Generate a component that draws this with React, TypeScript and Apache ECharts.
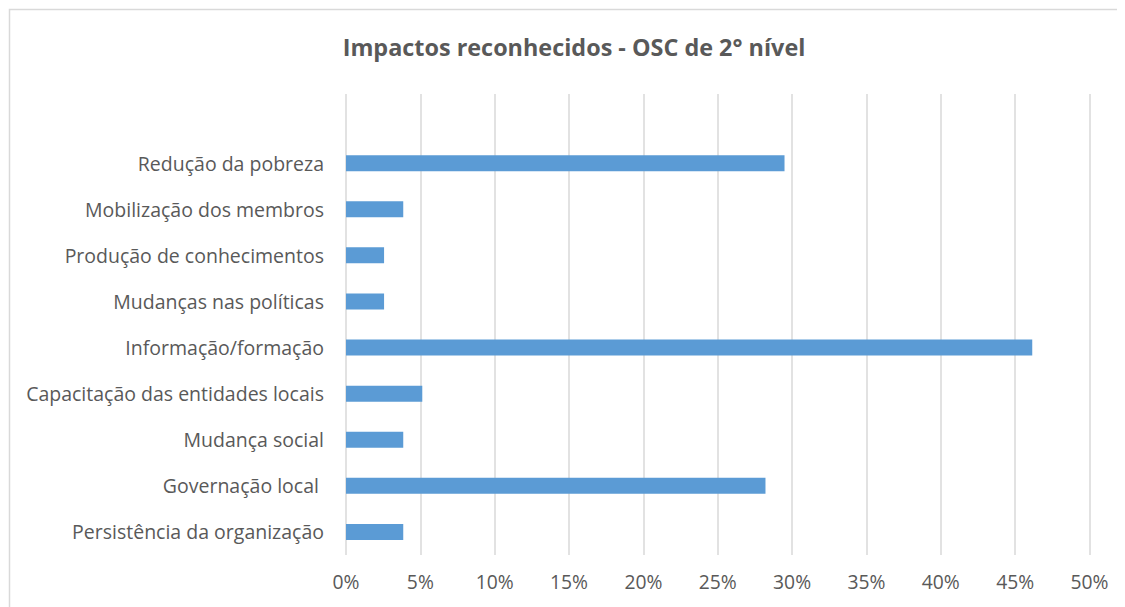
import React, { useEffect, useRef } from "react";
import * as echarts from "echarts";

const categories = [
  "",
  "Redução da pobreza",
  "Mobilização dos membros",
  "Produção de conhecimentos",
  "Mudanças nas políticas",
  "Informação/formação",
  "Capacitação das entidades locais",
  "Mudança social",
  "Governação local ",
  "Persistência da organização",
];
const values = [null, 29.49, 3.85, 2.56, 2.56, 46.15, 5.13, 3.85, 28.21, 3.85];
const xMin = 0;
const xMax = 50;
const xStep = 5;

export default function App() {
  const ref = useRef<HTMLDivElement>(null);
  useEffect(() => {
    if (!ref.current) return;
    const chart = echarts.init(ref.current, null, { renderer: "svg" });
    const font = "'Open Sans', sans-serif";
    chart.setOption({
      animation: false,
      backgroundColor: "#ffffff",
      title: {
        text: "Impactos reconhecidos - OSC de 2° nível",
        left: 561,
        top: 22,
        textAlign: "center",
        textStyle: { fontFamily: font, fontSize: 23.4, fontWeight: "bold", color: "#595959" },
      },
      graphic: [
        {
          type: "rect",
          shape: { x: 1.5, y: 1.5, width: 3000, height: 3000 },
          style: { fill: "none", stroke: "#d9d9d9", lineWidth: 1.5 },
          silent: true,
        },
      ],
      grid: { left: 338, right: 35.5, top: 86, bottom: 52, containLabel: false },
      xAxis: {
        type: "value",
        min: xMin,
        max: xMax,
        interval: xStep,
        axisLine: { show: false },
        axisTick: { show: false },
        axisLabel: {
          formatter: (v: number) => v + "%",
          fontFamily: font,
          fontSize: 19.3,
          color: "#595959",
          margin: 17,
        },
        splitLine: { show: true, lineStyle: { color: "#d9d9d9", width: 1.5 } },
      },
      yAxis: {
        type: "category",
        inverse: true,
        data: categories,
        axisLine: { show: false },
        axisTick: { show: false },
        axisLabel: { fontFamily: font, fontSize: 19.5, color: "#595959", margin: 22 },
        splitLine: { show: false },
      },
      series: [
        {
          type: "bar",
          data: values,
          barWidth: 16,
          itemStyle: { color: "#5b9bd5" },
        },
      ],
    });
    return () => chart.dispose();
  }, []);
  return <div ref={ref} style={{ width: 1117, height: 599 }} />;
}
